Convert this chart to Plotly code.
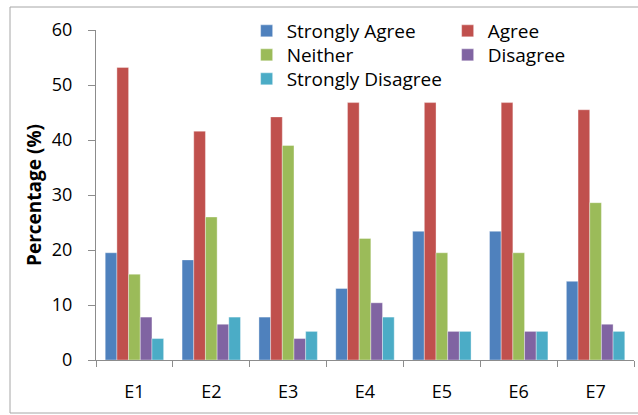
import plotly.graph_objects as go

# Survey items and response shares (%)
items = ["E1", "E2", "E3", "E4", "E5", "E6", "E7"]
strongly_agree = [19.5, 18.2, 7.8, 13.0, 23.4, 23.4, 14.3]
agree = [53.2, 41.6, 44.2, 46.8, 46.8, 46.8, 45.5]
neither = [15.6, 26.0, 39.0, 22.1, 19.5, 19.5, 28.6]
disagree = [7.8, 6.5, 3.9, 10.4, 5.2, 5.2, 6.5]
strongly_disagree = [3.9, 7.8, 5.2, 7.8, 5.2, 5.2, 5.2]

y_ticks = [0, 10, 20, 30, 40, 50, 60]

# (name, values, colour, legend row)
series = [
    ("Strongly Agree", strongly_agree, "#4F81BD", "legend"),
    ("Agree", agree, "#C0504D", "legend"),
    ("Neither", neither, "#9BBB59", "legend2"),
    ("Disagree", disagree, "#8064A2", "legend2"),
    ("Strongly Disagree", strongly_disagree, "#4BACC6", "legend3"),
]

FONT = "Open Sans, Calibri, sans-serif"
AXIS_GREY = "#8C8C8C"

fig = go.Figure()
for name, vals, color, leg in series:
    fig.add_trace(go.Bar(
        name=name, x=items, y=vals, legend=leg,
        marker=dict(color=color, line=dict(color="rgba(255,255,255,0.45)", width=0.8)),
    ))


def legend_row(y):
    return dict(
        orientation="h", x=0.280, y=y, xanchor="left", yanchor="top",
        entrywidth=156, entrywidthmode="pixels",
        font=dict(family=FONT, size=19, color="black"),
        bgcolor="rgba(0,0,0,0)",
    )


fig.update_layout(
    width=638, height=415,
    margin=dict(l=96, r=4, t=30, b=55, autoexpand=False),
    paper_bgcolor="white", plot_bgcolor="white",
    barmode="group", bargap=0.24, bargroupgap=0,
    font=dict(family=FONT, size=18, color="black"),
    showlegend=True,
    legend=legend_row(1.0545),
    legend2=legend_row(0.9818),
    legend3=legend_row(0.9091),
    xaxis=dict(
        showline=True, linecolor=AXIS_GREY, linewidth=1,
        ticks="outside", ticklen=6, tickcolor=AXIS_GREY, tickson="boundaries",
        showgrid=False, zeroline=False, ticklabelstandoff=15,
        tickfont=dict(family=FONT, size=18),
    ),
    yaxis=dict(
        range=[0, 60], tickvals=y_ticks, showline=True, linecolor=AXIS_GREY, linewidth=1,
        ticks="outside", ticklen=7, tickcolor=AXIS_GREY,
        showgrid=False, zeroline=False, ticklabelstandoff=12,
        tickfont=dict(family=FONT, size=18),
        title=dict(text="<b>Percentage (%)</b>", font=dict(family=FONT, size=19), standoff=5),
    ),
    shapes=[dict(
        type="rect", xref="paper", yref="paper",
        x0=(10 - 96) / 538, x1=(645 - 96) / 538,
        y0=(360 - 413) / 330, y1=(360 - 7) / 330,
        line=dict(color="#A6A6A6", width=1), fillcolor="rgba(0,0,0,0)", layer="below",
    )],
)

fig.write_html("out.html")
